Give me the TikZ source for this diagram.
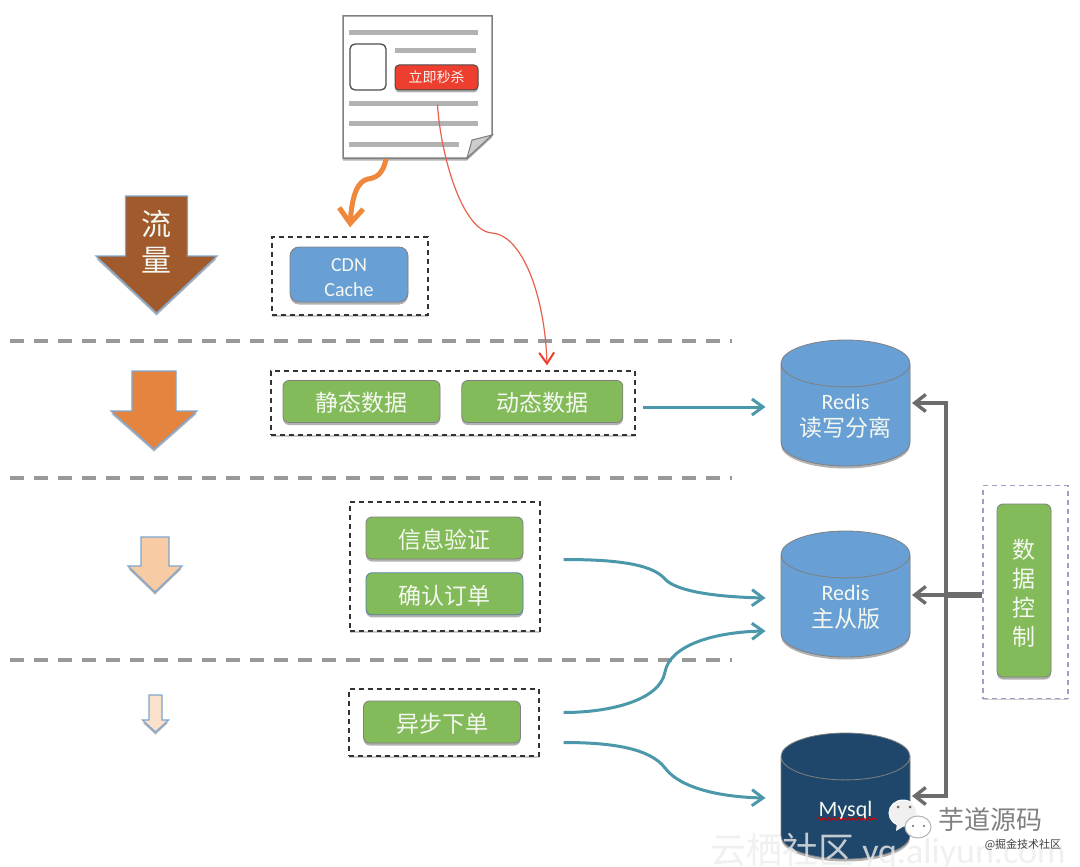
\documentclass[tikz,border=0pt]{standalone}
\usepackage{fontspec}
\setmainfont{Carlito}
\newfontfamily\cjk{Noto Sans CJK SC}
\usepackage{tikz}
\usetikzlibrary{shapes, shapes.geometric, shadows, arrows.meta, positioning, decorations.pathmorphing}
\definecolor{boxgreen}{HTML}{84BB5A}
\definecolor{dbblue}{HTML}{689FD4}
\definecolor{dbnavy}{HTML}{1F476B}
\definecolor{linkteal}{HTML}{4A98A9}
\definecolor{linkgrey}{HTML}{6C6C6C}
\definecolor{linkorange}{HTML}{F0883C}
\definecolor{linkred}{HTML}{E8604C}
\definecolor{btnred}{HTML}{EE3E30}
\definecolor{softwhite}{HTML}{F4F8F0}
\definecolor{flowedge}{HTML}{7FA6CE}
\definecolor{ctrledge}{HTML}{A59BC4}
\newcommand{\dbfill}{\phantom{\rule{70pt}{50pt}}}

\begin{document}
\begin{tikzpicture}[x=1pt, y=-1pt]
      \tikzstyle{softshadow}=[drop shadow={shadow xshift=0pt, shadow yshift=-2.5pt, fill=black, opacity=0.3}]
      \tikzstyle{greenbox}=[rectangle, rounded corners=6pt, draw=gray, line width=0.8pt, fill=boxgreen, softshadow, text=softwhite, inner sep=0pt, minimum width=157pt, minimum height=42pt, text height=21pt, text depth=0.6pt, font=\fontsize{23}{27}\selectfont\cjk]
      \tikzstyle{groupbox}=[rectangle, draw=black!80, line width=1.3pt, dash pattern=on 5pt off 4pt, inner sep=0pt, fill=white, drop shadow={shadow xshift=0pt, shadow yshift=-1.5pt, fill=black, opacity=0.2}]
      \tikzstyle{database}=[cylinder, anchor=shape center, shape border rotate=90, aspect=0.67, draw=gray, line width=0.8pt, fill=dbblue, softshadow, inner sep=0pt, minimum width=129pt, minimum height=126pt]
      \tikzstyle{dbtext}=[text=softwhite, inner sep=0pt, align=center, font=\fontsize{22}{26}\selectfont]
      \tikzstyle{teallink}=[draw=linkteal, line width=3pt, -{Straight Barb[length=11pt, width=16pt]}]
      \tikzstyle{greylink}=[draw=linkgrey, line width=3.4pt, -{Straight Barb[length=11pt, width=17pt]}]
      \tikzstyle{pageline}=[draw=black!30, line width=5pt]
      \tikzstyle{splitline}=[draw=black!40, line width=4pt, dash pattern=on 14pt off 10pt]
      \tikzstyle{flowarrow}=[draw=flowedge, line width=1.2pt, softshadow, line join=miter]
      \useasboundingbox (0,0) rectangle (1080,867);

      \foreach \ypos in {341, 478, 660} {
        \draw [splitline] (10,\ypos) -- (732,\ypos);
      }

      \foreach \xmid/\ytop/\shaft/\yneck/\head/\ytip/\tint in {
          156.5/196/31/256/60.5/313/{A05A2C},
          154/371/22/411/43/449/{E5843E},
          155/537/14/566/27/592/{F7CBA3},
          155.5/695/6.5/720/13/732/{FBE0CC}} {
        \definecolor{flowtint}{HTML}{\tint}
        \draw [flowarrow, fill=flowtint] (\xmid-\shaft,\ytop) -- (\xmid+\shaft,\ytop) -- (\xmid+\shaft,\yneck)
          -- (\xmid+\head,\yneck) -- (\xmid,\ytip) -- (\xmid-\head,\yneck) -- (\xmid-\shaft,\yneck) -- cycle;
      }
      \node (flowtext) [text=softwhite, align=center, font=\fontsize{30}{36}\selectfont\cjk] at (156,242) {流\\量};

      \draw [draw=gray, line width=1.5pt, fill=white, softshadow] (343,16) -- (492,16) -- (492,135) -- (467,158) -- (343,158) -- cycle;
      \draw [draw=gray, line width=1pt, fill=black!20] (492,135) -- (467,158) -- (472,140) -- cycle;
      \coordinate (pagefoot) at (386,159);
      \foreach \xa/\xb/\ypos in {349/478/33, 395/476/51, 349/478/104, 349/478/123, 349/459/144} {
        \draw [pageline] (\xa,\ypos) -- (\xb,\ypos);
      }
      \node (thumb) [rectangle, rounded corners=5pt, draw=black!70, line width=1.3pt, fill=white, minimum width=36pt, minimum height=46pt, inner sep=0pt] at (368,67) {};
      \node (buybtn) [rectangle, rounded corners=4pt, draw=black!70, line width=1pt, fill=btnred, text=softwhite, minimum width=83pt, minimum height=25pt, inner sep=0pt, softshadow, font=\fontsize{14}{16}\selectfont\cjk] at (436.5,77.5) {立即秒杀};

      \node (cdngroup) [groupbox, minimum width=156pt, minimum height=78pt] at (350,276) {};
      \node (cdn) [greenbox, fill=dbblue, minimum width=118pt, minimum height=55pt, rounded corners=9pt, text height=, text depth=, align=center, font=\fontsize{20}{25}\selectfont] at (349,274.5) {\rule{0pt}{20pt}CDN\\Cache};

      \node (datagroup) [groupbox, minimum width=364pt, minimum height=64pt] at (453,403) {};
      \node (staticdata) [greenbox] at (361.5,401.5) {静态数据};
      \node (dynamicdata) [greenbox, minimum width=161pt, right=21pt of staticdata] {动态数据};

      \node (ordergroup) [groupbox, minimum width=190pt, minimum height=129pt] at (445,566.5) {};
      \node (verify) [greenbox] at (444.5,538) {信息验证};
      \node (confirm) [greenbox, draw=dbblue!80!black, below=13pt of verify] {确认订单};

      \node (asyncgroup) [groupbox, minimum width=190pt, minimum height=67pt] at (444,722.5) {};
      \node (async) [greenbox] at (442,722) {异步下单};

      \node (redisrw) [database] at (845.5,403) {\dbfill};
      \node (redismaster) [database] at (845.5,594) {\dbfill};
      \node (mysql) [database, fill=dbnavy] at (845.5,796) {\dbfill};
      \node (redisrwtext) [dbtext] at ([shift={(0,13)}]redisrw.shape center) {Redis\\[1pt]{\fontsize{23}{26}\selectfont\cjk 读写分离}};
      \node (redismastertext) [dbtext] at ([shift={(0,13)}]redismaster.shape center) {Redis\\[1pt]{\fontsize{23}{26}\selectfont\cjk 主从版}};
      \node (mysqltext) [dbtext] at ([shift={(0,15)}]mysql.shape center) {Mysql};
      \draw [draw=red!80!black, line width=1pt, decorate, decoration={snake, amplitude=1.2pt, segment length=5pt}] (817,819) -- (877,819);

      \node (ctrlgroup) [groupbox, draw=ctrledge, line width=1.1pt, minimum width=85pt, minimum height=213pt] at (1025.5,592) {};
      \node (ctrl) [greenbox, minimum width=54pt, minimum height=173pt, text height=, text depth=, align=center, font=\fontsize{23}{29}\selectfont\cjk] at (1024,590.5) {\rule{0pt}{24pt}数\\据\\控\\制};

      \draw [draw=linkorange, line width=5pt, -{Straight Barb[length=15pt, width=24pt]}] (pagefoot)
        .. controls +(-3,16) and +(7,-1) .. (368,179)
        .. controls +(-10,2) and +(2,-33) .. ([shift={(0,-9)}]cdngroup.north);
      \draw [draw=linkred, line width=1.2pt, -{Straight Barb[length=11pt, width=15pt, line width=2pt, color=btnred]}] ([shift={(1,14)}]buybtn.south)
        .. controls +(3,50) and +(-30,-2) .. (492,233)
        .. controls +(30,2) and +(-2,-70) .. ([shift={(94,-5)}]datagroup.north);

      \draw [teallink] ([shift={(7,4)}]datagroup.east) -- ([shift={(-80,4)}]redisrw.shape center);
      \draw [teallink] ([shift={(23,-7)}]ordergroup.east)
        .. controls +(47,0) and +(-14,-15) .. (664,578)
        .. controls +(11,14) and +(-46,-1) .. ([shift={(-80,4)}]redismaster.shape center);
      \draw [teallink] ([shift={(24,-10)}]asyncgroup.east)
        .. controls +(47,0) and +(-5,28) .. (665,672)
        .. controls +(5,-27) and +(-51,1) .. ([shift={(-80,37)}]redismaster.shape center);
      \draw [teallink] ([shift={(24,20)}]asyncgroup.east)
        .. controls +(47,0) and +(-15,-20) .. (665,768)
        .. controls +(15,20) and +(-46,-1) .. ([shift={(-80,2)}]mysql.shape center);

      \coordinate (bus) at (946,595);
      \draw [draw=linkgrey, line width=6pt] (ctrlgroup.west |- bus) -- (bus);
      \draw [greylink] (bus) |- ([xshift=66.5pt]redisrw.shape center);
      \draw [greylink] (bus) -- ([xshift=66.5pt]redismaster.shape center |- bus);
      \draw [greylink] (bus) |- ([xshift=66.5pt]mysql.shape center);

      \node (cloudmark) [text=gray!15, opacity=0.8, font=\fontsize{36}{40}\selectfont] at (888,851) {{\cjk 云栖社区} yq.aliyun.com};
      \filldraw [fill=gray!12, draw=white, line width=1pt] (903,813) ellipse (14pt and 13pt);
      \fill [gray!12] (897,822) -- (896,831) -- (906,825) -- cycle;
      \filldraw [fill=white, draw=gray!60, line width=1pt] (918,827) ellipse (13pt and 11pt);
      \fill [black!60] (898,807) circle (1.5pt) (910,807) circle (1.5pt) (913,826) circle (1.2pt) (924,826) circle (1.2pt);
      \node (brandmark) [text=gray, font=\fontsize{26}{30}\selectfont\cjk] at (990,820) {芋道源码};
      \node (sitemark) [text=black!75, font=\fontsize{11}{13}\selectfont\cjk] at (1023,845) {@掘金技术社区};
    \end{tikzpicture}
\end{document}
